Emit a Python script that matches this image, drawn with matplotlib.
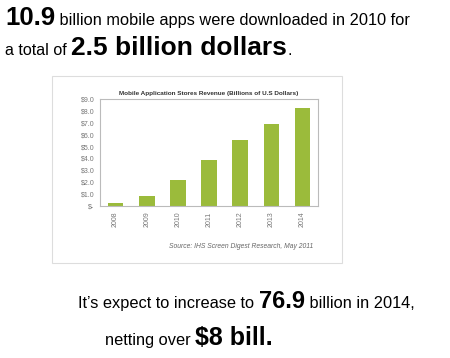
import matplotlib
matplotlib.use("Agg")
import matplotlib.pyplot as plt
from matplotlib.patches import Rectangle

years = ["2008", "2009", "2010", "2011", "2012", "2013", "2014"]
revenue = [0.25, 0.87, 2.19, 3.84, 5.55, 6.93, 8.21]
ytick_vals = [0, 1, 2, 3, 4, 5, 6, 7, 8, 9]
ytick_labels = ["$-", "$1.0", "$2.0", "$3.0", "$4.0", "$5.0", "$6.0", "$7.0", "$8.0", "$9.0"]
chart_title = "Mobile Application Stores Revenue (Billions of U.S Dollars)"
source = "Source: IHS Screen Digest Research, May 2011"

W, H = 450, 358
fig = plt.figure(figsize=(W / 100, H / 100), dpi=100)
fig.patch.set_facecolor("white")
plt.rcParams['font.family'] = ['Liberation Sans', 'DejaVu Sans']

# image border
fig.patches.append(Rectangle((52 / W, 1 - 263 / H), (342 - 52) / W, (263 - 76) / H,
                             transform=fig.transFigure, fill=False,
                             edgecolor="#dddddd", linewidth=0.8))

ax = fig.add_axes([100 / W, 1 - 206 / H, 218 / W, 107 / H])
ax.bar(range(len(years)), revenue, width=0.5, color="#9bbb3b")
ax.set_xlim(-0.5, len(years) - 0.5)
ax.set_ylim(0, 9)
ax.set_yticks(ytick_vals)
ax.set_yticklabels(ytick_labels, fontsize=5, color="#777777")
ax.set_xticks(range(len(years)))
ax.set_xticklabels(years, rotation=90, fontsize=5, color="#777777")
ax.tick_params(length=0, pad=4)
for s in ax.spines.values():
    s.set_color("#bbbbbb")
    s.set_linewidth(0.8)
ax.set_title(chart_title, fontsize=4.6, fontweight="bold", color="#333333", pad=3)
fig.text(313 / W, 1 - 246 / H, source, fontsize=4.9, style="italic",
         color="#666666", ha="right", va="center")

renderer = fig.canvas.get_renderer()


def line(x0, y, parts):
    x = x0
    for txt, size, bold in parts:
        t = fig.text(x / W, 1 - y / H, txt, fontsize=size,
                     fontweight="bold" if bold else "normal",
                     ha="left", va="baseline", color="black")
        bb = t.get_window_extent(renderer)
        x += bb.width


line(5, 25, [("10.9", 18.5, True), (" billion mobile apps were downloaded in 2010 for", 11.8, False)])
line(5, 55, [("a total of ", 11.6, False), ("2.5 billion dollars", 19, True), (".", 11.6, False)])
line(78, 308, [("It\u2019s expect to increase to ", 11.8, False), ("76.9", 17, True),
               (" billion in 2014,", 11.8, False)])
line(105, 345, [("netting over ", 11.8, False), ("$8 bill.", 18, True)])

fig.savefig("out.png", dpi=100)
